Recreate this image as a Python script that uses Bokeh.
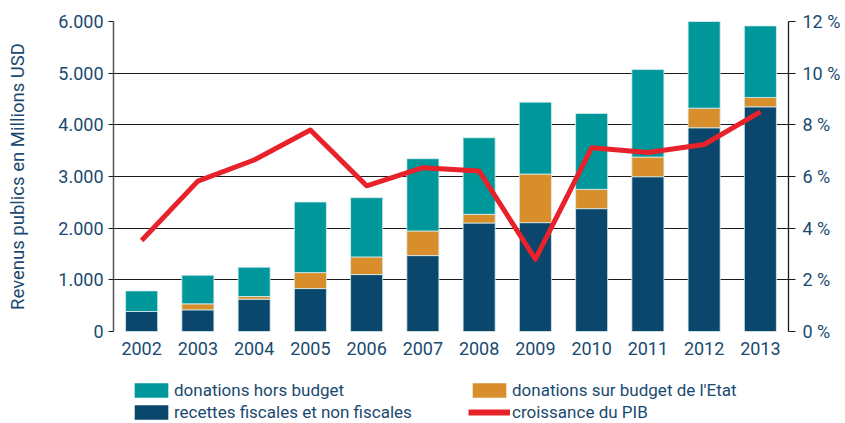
from bokeh.plotting import figure
from bokeh.layouts import column
from bokeh.models import (FactorRange, Range1d, LinearAxis, Legend, LegendItem,
                          FixedTicker, ColumnDataSource)
from bokeh.embed import file_html
from bokeh.resources import INLINE

years = ["2002", "2003", "2004", "2005", "2006", "2007",
         "2008", "2009", "2010", "2011", "2012", "2013"]
recettes = [387, 419, 625, 831, 1102, 1469, 2100, 2107, 2378, 2996, 3943, 4349]
sur_budget = [0, 116, 52, 309, 341, 477, 168, 941, 373, 380, 380, 181]
hors_budget = [399, 554, 567, 1366, 1147, 1398, 1482, 1391, 1469, 1695, 1696, 1385]
pib = [3.52, 5.82, 6.64, 7.8, 5.64, 6.34, 6.21, 2.8, 7.11, 6.93, 7.24, 8.5]

left_ticks = [0, 1000, 2000, 3000, 4000, 5000, 6000]
left_labels = ["0", "1.000", "2.000", "3.000", "4.000", "5.000", "6.000"]
right_ticks = [0, 2, 4, 6, 8, 10, 12]
right_labels = ["0 %", "2 %", "4 %", "6 %", "8 %", "10 %", "12 %"]

names = ["recettes fiscales et non fiscales",
         "donations sur budget de l'Etat",
         "donations hors budget",
         "croissance du PIB"]

C_DARK = "#0b466c"
C_ORANGE = "#d78e2b"
C_TEAL = "#00979a"
C_RED = "#e8222a"
C_TEXT = "#1a4a70"
C_EDGE = "#d8ecee"
FONT = "Roboto"

src = ColumnDataSource(dict(years=years, recettes=recettes, sur=sur_budget,
                            hors=hors_budget, pib=pib))

# ---------------- main chart ----------------
p = figure(width=845, height=376, x_range=FactorRange(*years, range_padding=0),
           y_range=Range1d(0, 6000), output_backend="svg", toolbar_location=None,
           min_border_left=113, min_border_right=57, min_border_top=21,
           min_border_bottom=45)
p.outline_line_color = None
p.background_fill_color = "white"
p.border_fill_color = "white"

bars = p.vbar_stack(["recettes", "sur", "hors"], x="years", width=0.57,
                    color=[C_DARK, C_ORANGE, C_TEAL], line_color=C_EDGE,
                    line_width=0.8, source=src)

p.extra_y_ranges = {"pib": Range1d(0, 12)}
line = p.line(x="years", y="pib", source=src, y_range_name="pib",
              line_color=C_RED, line_width=5, line_join="round")

p.xgrid.grid_line_color = None
p.ygrid.ticker = FixedTicker(ticks=left_ticks)
p.ygrid.grid_line_color = "#1a1a1a"
p.ygrid.grid_line_width = 1.2

ya = p.yaxis[0]
ya.ticker = FixedTicker(ticks=left_ticks)
ya.major_label_overrides = dict(zip(left_ticks, left_labels))
ya.axis_line_color = "#555555"
ya.axis_line_width = 1.5
ya.major_tick_line_color = "#1a1a1a"
ya.major_tick_out = 5
ya.major_tick_in = 0
ya.minor_tick_line_color = None
ya.major_label_standoff = 5
ya.major_label_text_font = FONT
ya.major_label_text_font_size = "18px"
ya.major_label_text_color = C_TEXT
ya.axis_label = "Revenus publics en Millions USD"
ya.axis_label_text_font = FONT
ya.axis_label_text_font_size = "18.5px"
ya.axis_label_text_font_style = "normal"
ya.axis_label_text_color = C_TEXT
ya.axis_label_standoff = 26

ra = LinearAxis(y_range_name="pib", ticker=FixedTicker(ticks=right_ticks),
                major_label_overrides=dict(zip(right_ticks, right_labels)))
ra.axis_line_color = "#1a1a1a"
ra.axis_line_width = 1.3
ra.major_tick_line_color = "#1a1a1a"
ra.major_tick_out = 7
ra.major_tick_in = 0
ra.minor_tick_line_color = None
ra.major_label_standoff = 7
ra.major_label_text_font = FONT
ra.major_label_text_font_size = "18px"
ra.major_label_text_color = C_TEXT
p.add_layout(ra, "right")

xa = p.xaxis[0]
xa.axis_line_color = None
xa.major_tick_line_color = None
xa.minor_tick_line_color = None
xa.major_label_standoff = 4
xa.major_label_text_font = FONT
xa.major_label_text_font_size = "18px"
xa.major_label_text_color = C_TEXT

# ---------------- legend strip (shows no data, only the legend) ----------------
p2 = figure(width=845, height=47, x_range=p.x_range, y_range=Range1d(-2, -1),
            x_axis_type=None, y_axis_type=None, output_backend="svg",
            toolbar_location=None, min_border=0)
p2.outline_line_color = None
p2.grid.grid_line_color = None
p2.background_fill_color = "white"
p2.border_fill_color = "white"

r_hors = p2.vbar(x="years", top="hors", width=0.001, source=src,
                 color=C_TEAL, line_color=None)
r_sur = p2.vbar(x="years", top="sur", width=0.001, source=src,
                color=C_ORANGE, line_color=None)
r_rec = p2.vbar(x="years", top="recettes", width=0.001, source=src,
                color=C_DARK, line_color=None)
r_pib = p2.line(x="years", y="pib", source=src,
                line_color=C_RED, line_width=6)

legend = Legend(items=[
    LegendItem(label=names[2], renderers=[r_hors]),
    LegendItem(label=names[0], renderers=[r_rec]),
    LegendItem(label=names[1], renderers=[r_sur]),
    LegendItem(label=names[3], renderers=[r_pib]),
], ncols=2, location=(17, 0))
legend.border_line_color = None
legend.background_fill_alpha = 0
legend.padding = 0
legend.margin = 0
legend.spacing = 0
legend.glyph_width = 42
legend.glyph_height = 18
legend.label_height = 22
legend.label_standoff = 2
legend.label_width = 294
legend.label_text_font = FONT
legend.label_text_font_size = "17px"
legend.label_text_color = C_TEXT
p2.add_layout(legend)

layout = column(p, p2, spacing=0)
open("out.html", "w").write(file_html(layout, INLINE))
